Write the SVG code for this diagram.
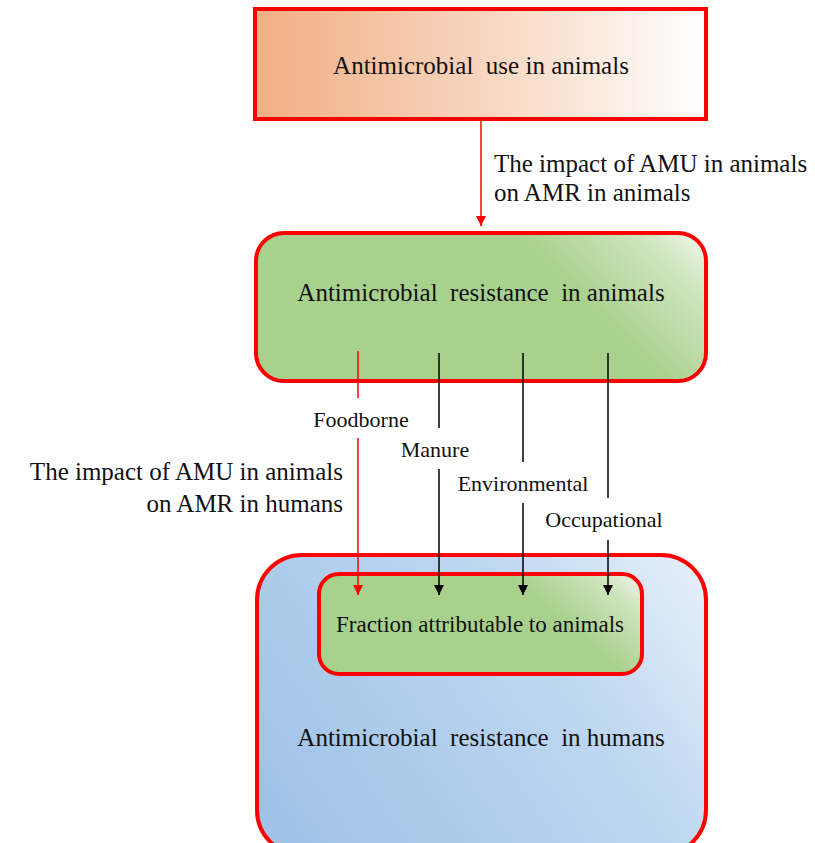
<svg xmlns="http://www.w3.org/2000/svg" width="815" height="843" viewBox="0 0 815 843">
<defs>
<linearGradient id="gOrange" x1="0" y1="0.5" x2="1" y2="0.5">
<stop offset="0" stop-color="#f1ae84"/>
<stop offset="0.55" stop-color="#f8d9c5"/>
<stop offset="1" stop-color="#ffffff"/>
</linearGradient>
<linearGradient id="gGreen" gradientUnits="userSpaceOnUse" x1="712" y1="228" x2="610" y2="330">
<stop offset="0" stop-color="#f7fbf4"/>
<stop offset="0.4" stop-color="#cde4bc"/>
<stop offset="1" stop-color="#a9d18e"/>
</linearGradient>
<linearGradient id="gGreen2" gradientUnits="userSpaceOnUse" x1="646" y1="570" x2="585" y2="640">
<stop offset="0" stop-color="#f7fbf4"/>
<stop offset="0.4" stop-color="#cde4bc"/>
<stop offset="1" stop-color="#a9d18e"/>
</linearGradient>
<linearGradient id="gBlue" gradientUnits="userSpaceOnUse" x1="706" y1="555" x2="300" y2="843">
<stop offset="0" stop-color="#e9f1fa"/>
<stop offset="0.35" stop-color="#c0d8f1"/>
<stop offset="1" stop-color="#9fc3e7"/>
</linearGradient>
<marker id="arrRed" viewBox="0 0 10 10" refX="10" refY="5" markerWidth="10" markerHeight="10" markerUnits="userSpaceOnUse" orient="auto">
<path d="M0,0 L10,5 L0,10 Z" fill="#ff0000"/>
</marker>
<marker id="arrBlack" viewBox="0 0 10 10" refX="10" refY="5" markerWidth="10" markerHeight="10" markerUnits="userSpaceOnUse" orient="auto">
<path d="M0,0 L10,5 L0,10 Z" fill="#000000"/>
</marker>
</defs>
<style>
.box{stroke:#ff0000;stroke-width:4}
text{font-family:'Liberation Serif','DejaVu Serif','Times New Roman',serif;fill:#111}
.big{font-size:25px}
.mid{font-size:23px}
.lbl{font-size:22px}
.red{stroke:#ff0000;stroke-width:1.5;fill:none}
.blk{stroke:#000000;stroke-width:1.5;fill:none}
</style>
<rect width="815" height="843" fill="#ffffff"/>

<g id="node-amu-use">
<rect class="box" x="255" y="9" width="451" height="110" fill="url(#gOrange)"/>
<text class="big" x="481" y="74" text-anchor="middle" xml:space="preserve">Antimicrobial  use in animals</text>
</g>

<g id="node-amr-animals">
<rect class="box" x="256" y="233" width="450" height="148" rx="28" fill="url(#gGreen)"/>
<text class="big" x="481" y="301" text-anchor="middle" xml:space="preserve">Antimicrobial  resistance  in animals</text>
</g>

<g id="node-amr-humans">
<rect class="box" x="257" y="555" width="449" height="300" rx="45" fill="url(#gBlue)"/>
<text class="big" x="481" y="746" text-anchor="middle" xml:space="preserve">Antimicrobial  resistance  in humans</text>
</g>

<g id="node-fraction">
<rect class="box" x="319" y="574" width="323" height="100" rx="20" fill="url(#gGreen2)"/>
<text class="mid" x="480" y="632" text-anchor="middle">Fraction attributable to animals</text>
</g>

<g id="connectors">
<line class="red" x1="481" y1="121" x2="481" y2="226" marker-end="url(#arrRed)"/>
<line class="red" x1="358" y1="351" x2="358" y2="398"/>
<line class="red" x1="358" y1="438" x2="358" y2="595" marker-end="url(#arrRed)"/>
<line class="blk" x1="439" y1="353" x2="439" y2="428"/>
<line class="blk" x1="439" y1="469" x2="439" y2="595" marker-end="url(#arrBlack)"/>
<line class="blk" x1="523" y1="353" x2="523" y2="462"/>
<line class="blk" x1="523" y1="503" x2="523" y2="595" marker-end="url(#arrBlack)"/>
<line class="blk" x1="608" y1="353" x2="608" y2="498"/>
<line class="blk" x1="608" y1="540" x2="608" y2="595" marker-end="url(#arrBlack)"/>
</g>

<g id="labels">
<text class="big" x="494" y="172">The impact of AMU in animals</text>
<text class="big" x="494" y="201">on AMR in animals</text>
<text class="big" x="343" y="480" text-anchor="end">The impact of AMU in animals</text>
<text class="big" x="343" y="512" text-anchor="end">on AMR in humans</text>
<text class="lbl" x="361" y="427" text-anchor="middle">Foodborne</text>
<text class="lbl" x="435" y="457" text-anchor="middle">Manure</text>
<text class="lbl" x="523" y="491" text-anchor="middle">Environmental</text>
<text class="lbl" x="604" y="527" text-anchor="middle">Occupational</text>
</g>
</svg>
